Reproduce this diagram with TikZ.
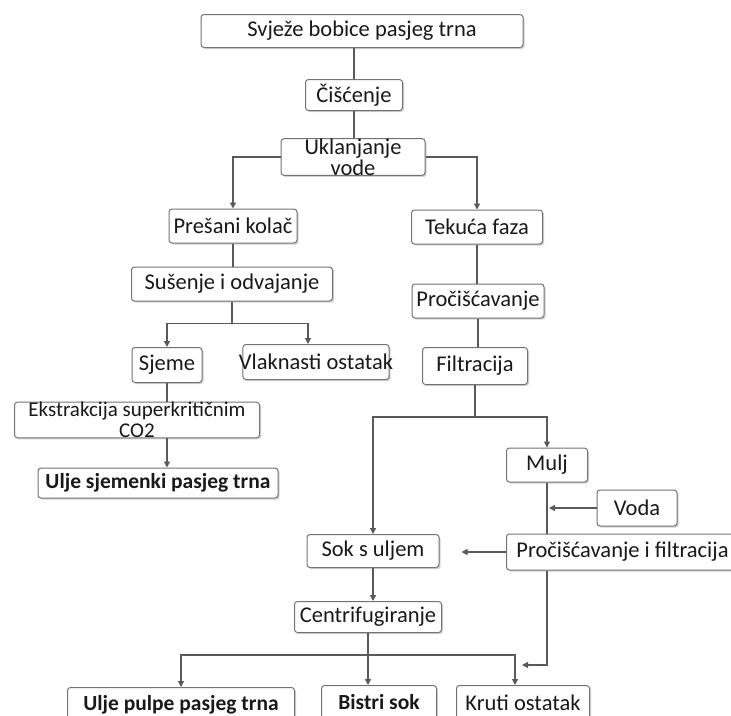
\documentclass[tikz,border=0pt]{standalone}
\usepackage{fontspec}
\setmainfont{Carlito}
\usetikzlibrary{arrows.meta,shadows}

\tikzset{
  box/.style={draw=black!55, line width=1pt, rounded corners=3pt, fill=white,
    drop shadow={shadow xshift=1.6pt, shadow yshift=-1.6pt, fill=black!35},
    text=black!90, inner xsep=2pt, inner ysep=2pt, align=center,
    font=\fontsize{22.5}{21}\selectfont},
  bbox/.style={box, font=\fontsize{21.5}{21}\selectfont\bfseries},
  link/.style={draw=black!65, line width=1.3pt},
  flow/.style={link, -{Triangle[length=6pt,width=6pt]}}
}

\begin{document}
\begin{tikzpicture}[x=1pt,y=-1pt]
\useasboundingbox (0,0) rectangle (731,715);
% upper part
\node[box, minimum width=322, minimum height=33] (svjeze) at (362,31) {Svježe bobice pasjeg trna};
\node[box, minimum width=97, minimum height=31] (cisc) at (354,95) {Čišćenje};
\node[box, minimum width=144, inner ysep=0pt] (ukl) at (353,157) {Uklanjanje\\vode};
% left branch
\node[box, minimum width=128, minimum height=34] (presani) at (233,226) {Prešani kolač};
\node[box, minimum width=201, minimum height=34] (susenje) at (232,284) {Sušenje i odvajanje};
\node[box, minimum width=70, minimum height=35] (sjeme) at (167,365) {Sjeme};
\node[box, minimum height=35, inner xsep=-4pt] (vlakna) at (316,362) {Vlaknasti ostatak};
\node[box, minimum width=245, inner ysep=0pt, font=\fontsize{21}{21}\selectfont] (ekstr) at (137,420) {Ekstrakcija superkritičnim\\CO2};
\node[bbox, minimum width=240, minimum height=30] (uljes) at (158,483) {Ulje sjemenki pasjeg trna};
% right branch
\node[box, minimum width=131, minimum height=34] (tekuca) at (477,227) {Tekuća faza};
\node[box, minimum width=132, minimum height=34, inner xsep=-1pt] (proc) at (478,301) {Pročišćavanje};
\node[box, minimum width=105, minimum height=37] (filtr) at (475,366) {Filtracija};
\node[box, minimum width=81, minimum height=34] (mulj) at (547,465) {Mulj};
\node[box, minimum width=80, minimum height=36] (voda) at (637,508) {Voda};
\node[box, minimum width=132, minimum height=33] (sok) at (373,551) {Sok s uljem};
\node[box, anchor=west, minimum width=232, minimum height=36, inner xsep=1pt] (pif) at (506,552) {Pročišćavanje i filtracija};
\node[box, minimum width=147, minimum height=31, inner xsep=0pt] (centr) at (368,617) {Centrifugiranje};
% bottom row
\node[bbox, anchor=north, minimum width=227, minimum height=34] (ulpulpe) at (181,687) {Ulje pulpe pasjeg trna};
\node[bbox, anchor=north, minimum width=115, minimum height=34] (bistri) at (379,685) {Bistri sok};
\node[box, anchor=north, minimum width=133, minimum height=34] (kruti) at (523,685) {Kruti ostatak};
% connectors
\draw[link] (cisc.north) -- (cisc.north |- svjeze.south);
\draw[link] (cisc.south) -- (cisc.south |- ukl.north);
\draw[flow] (ukl.west) -| (presani.north);
\draw[flow] (ukl.east) -| (tekuca.north);
\draw[link] (presani.south) -- (presani.south |- susenje.north);
\draw[link] (susenje.south) -- ++(0,22) coordinate (s1);
\draw[flow] (s1) -| (sjeme.north);
\draw[flow] (s1) -| ([xshift=-8pt]vlakna.north);
\draw[link] (sjeme.south) -- (sjeme.south |- ekstr.north);
\draw[flow] (sjeme.south |- ekstr.south) -- (sjeme.south |- uljes.north);
\draw[link] (tekuca.south) -- (tekuca.south |- proc.north);
\draw[link] (proc.south) -- (proc.south |- filtr.north);
\draw[link] (filtr.south) -- ++(0,32) coordinate (f1);
\draw[flow] (f1) -| (sok.north);
\draw[flow] (f1) -| (mulj.north);
\draw[link] (mulj.south) -- (mulj.south |- pif.north);
\draw[flow, shorten >=2pt] (voda.west) -- (mulj.south |- voda.west);
\coordinate (sokin) at ([xshift=22pt]sok.east);
\draw[flow] (pif.west) -- (sokin |- pif.west);
\draw[flow] (sok.south) -- (sok.south |- centr.north);
\draw[link] (centr.south) -- ++(0,22) coordinate (c1);
\draw[flow] (c1) -| (ulpulpe.north);
\draw[flow] (c1) -- (c1 |- bistri.north);
\draw[flow] (c1) -| ([xshift=-8pt]kruti.north);
\coordinate (kin) at (522,665);
\draw[flow] (mulj.south |- pif.south) |- (kin);
\end{tikzpicture}
\end{document}
